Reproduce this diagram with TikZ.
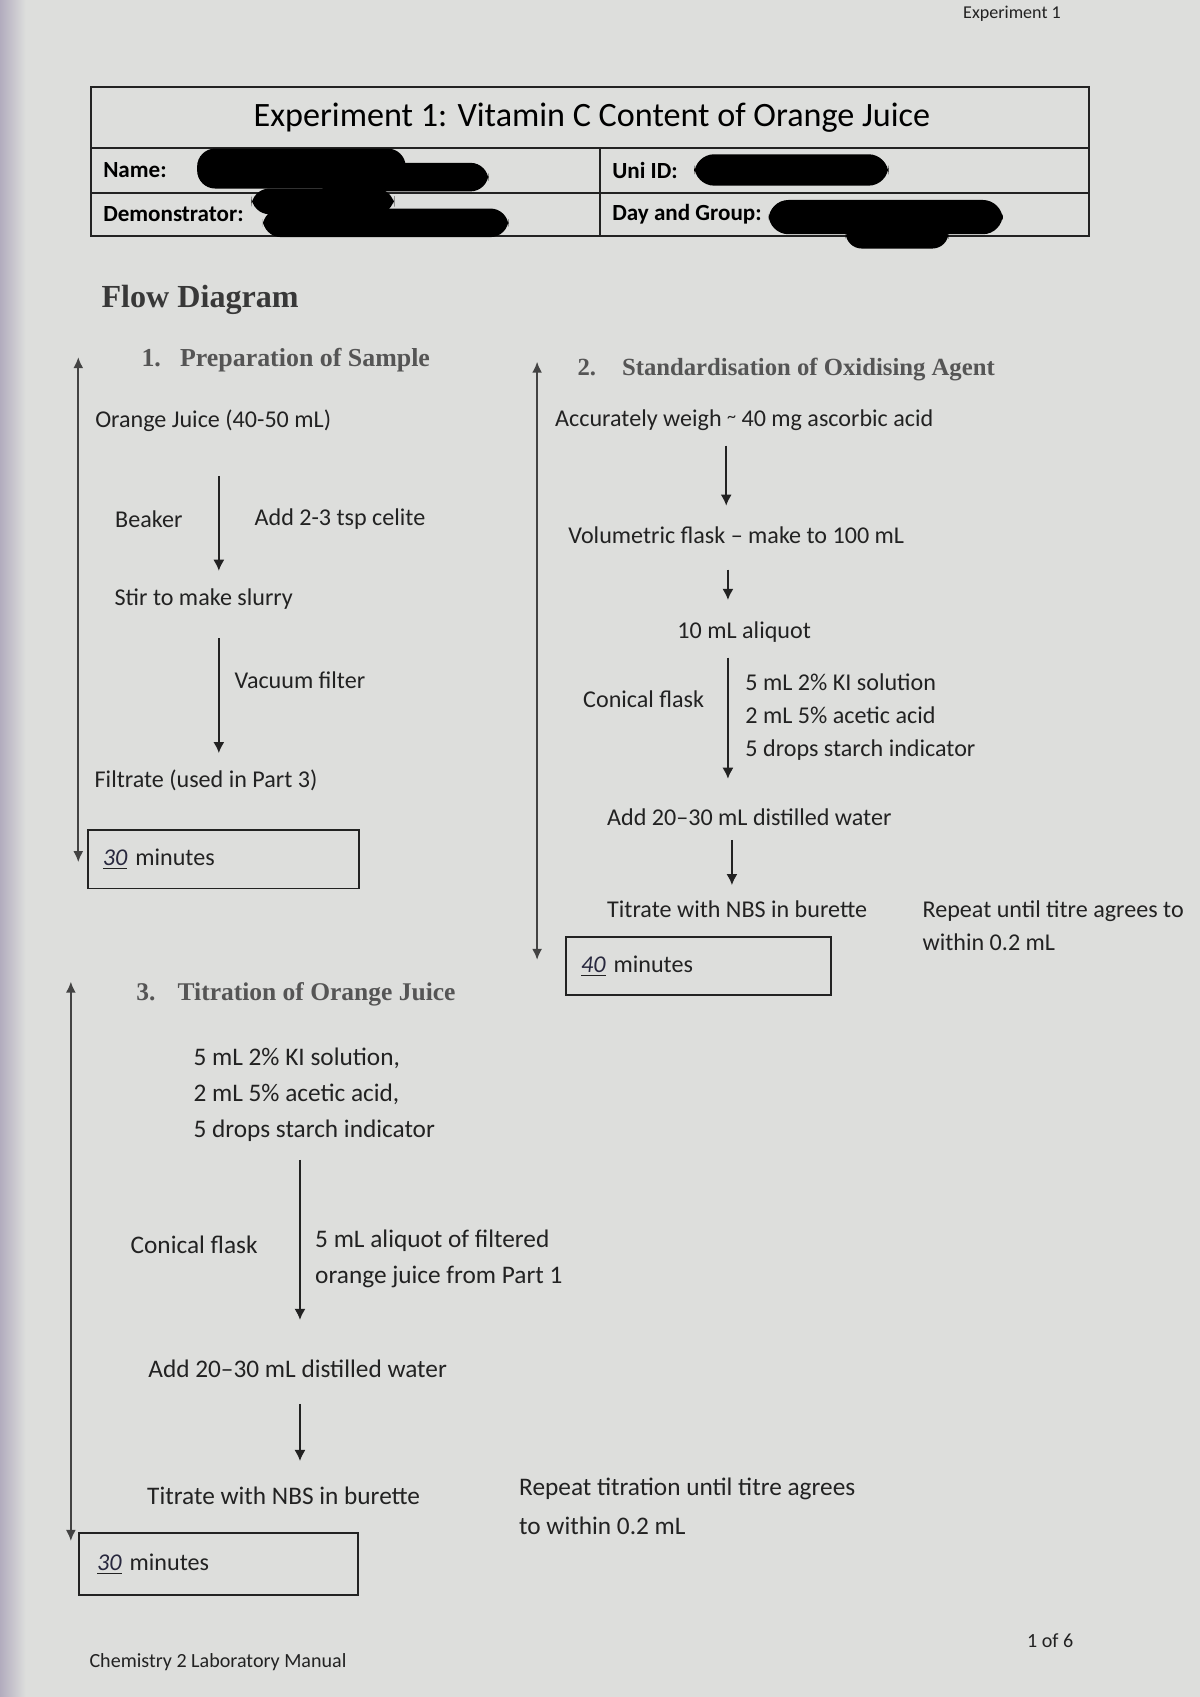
\documentclass[tikz,border=0pt]{standalone}
\usepackage{fontspec}
\setmainfont{Carlito}
\newfontfamily\headserif{Liberation Serif}
\usetikzlibrary{positioning,arrows.meta}

\definecolor{paper}{RGB}{221,222,220}
\definecolor{edge}{RGB}{178,172,190}
\definecolor{ink}{RGB}{34,34,34}
\definecolor{headgray}{RGB}{85,85,85}
\definecolor{pen}{RGB}{40,40,62}

\newcommand{\handnum}[1]{\underline{\textcolor{pen}{\textit{#1}}}}

\tikzset{flow/.style={-{Latex[length=5.5pt,width=5.5pt]},line width=0.8pt,ink}}
\tikzset{span/.style={{Latex[length=5.5pt,width=5pt]}-{Latex[length=5.5pt,width=5pt]},line width=1pt,ink!85}}
\tikzset{rule/.style={line width=0.8pt,ink}}
\tikzset{txt/.style={anchor=west,inner sep=0pt,text=ink,align=left,font=\fontsize{12}{16.5}\selectfont}}
\tikzset{bigtxt/.style={txt,font=\fontsize{12.6}{17.8}\selectfont}}
\tikzset{field/.style={anchor=west,inner sep=0pt,text=black,font=\bfseries\fontsize{11.5}{14}\selectfont}}
\tikzset{sechead/.style={anchor=west,inner sep=0pt,text=headgray,font=\headserif\bfseries\fontsize{12.6}{15}\selectfont}}
\tikzset{timebox/.style={draw=ink,line width=0.8pt,inner ysep=0pt,align=left,minimum height=1.02cm,text=ink,font=\fontsize{12}{14}\selectfont}}

\begin{document}
\begin{tikzpicture}
        \useasboundingbox (0,0) rectangle (21,29.7);
        % the sheet
        \fill[paper] (0,0) rectangle (21,29.7);
        \shade[left color=edge,right color=paper] (0,0) rectangle (0.45,29.7);
        \node[anchor=west,inner sep=0pt,text=ink,font=\fontsize{9}{11}\selectfont] (runhead) at (16.85,29.46) {Experiment 1};

        % header table
        \draw[rule] (1.59,25.57) rectangle (19.06,28.18);
        \draw[rule] (1.59,27.11) -- (19.06,27.11);
        \draw[rule] (1.59,26.32) -- (19.06,26.32);
        \draw[rule] (10.5,25.57) -- (10.5,27.11);
        \node[inner sep=0pt,text=black,font=\fontsize{17}{20}\selectfont] (title) at (10.36,27.64) {Experiment 1: Vitamin C Content of Orange Juice};
        \node[field] (name) at (1.80,26.72) {Name:};
        \node[field] (demo) at (1.80,25.95) {Demonstrator:};
        \node[field] (uniid) at (10.71,26.72) {Uni ID:};
        \node[field] (daygroup) at (10.71,25.95) {Day and Group:};
        % blacked out entries
        \fill[black,rounded corners=9pt] (3.45,26.40) rectangle (7.10,27.10);
        \fill[black,rounded corners=9pt] (5.50,26.35) rectangle (8.55,26.85);
        \fill[black,rounded corners=9pt] (4.40,25.95) rectangle (6.90,26.40);
        \fill[black,rounded corners=9pt] (4.60,25.55) rectangle (8.90,26.05);
        \fill[black,rounded corners=10pt] (12.15,26.45) rectangle (15.55,27.00);
        \fill[black,rounded corners=10pt] (13.45,25.60) rectangle (17.55,26.20);
        \fill[black,rounded corners=8pt] (14.80,25.35) rectangle (16.60,25.80);

        \node[anchor=west,inner sep=0pt,text=ink!90,font=\headserif\bfseries\fontsize{16}{19}\selectfont] (flowhead) at (1.77,24.45) {Flow Diagram};

        % part 1
        \coordinate (s1top) at (1.37,23.45);
        \coordinate (s1bot) at (1.37,14.61);
        \draw[span] (s1top) -- (s1bot);
        \node[sechead,font=\headserif\bfseries\fontsize{12.9}{15}\selectfont] (head1) at (2.47,23.40) {1.\hspace{9.5pt}Preparation of Sample};
        \node[txt] (juice) at (1.66,22.33) {Orange Juice (40-50 mL)};
        \node[txt] (beaker) at (2.01,20.62) {Beaker};
        \node[txt] (celite) at (4.45,20.62) {Add 2-3 tsp celite};
        \node[txt] (slurry) at (2.00,19.22) {Stir to make slurry};
        \node[txt] (vacuum) at (4.10,17.80) {Vacuum filter};
        \node[txt] (filtrate) at (1.65,16.05) {Filtrate (used in Part 3)};
        \coordinate (a1top) at (3.83,21.37);
        \coordinate (a1bot) at (3.83,19.71);
        \coordinate (a2top) at (3.83,18.53);
        \coordinate (a2bot) at (3.83,16.52);
        \draw[flow] (a1top) -- (a1bot);
        \draw[flow] (a2top) -- (a2bot);
        \node[timebox,text width=4.22cm,inner xsep=0.26cm] (time1) at (3.91,14.66) {\handnum{30} minutes};

        % part 2
        \coordinate (s2top) at (9.40,23.37);
        \coordinate (s2bot) at (9.40,12.90);
        \draw[span] (s2top) -- (s2bot);
        \node[sechead,font=\headserif\bfseries\fontsize{12.3}{15}\selectfont] (head2) at (10.10,23.24) {2.\hspace{13pt}Standardisation of Oxidising Agent};
        \node[txt] (weigh) at (9.71,22.35) {Accurately weigh \raisebox{0.3ex}{\small\char`\~} 40 mg ascorbic acid};
        \node[txt] (volflask) at (9.94,20.34) {Volumetric flask -- make to 100 mL};
        \node[txt] (aliquot) at (11.85,18.64) {10 mL aliquot};
        \node[txt] (conical2) at (10.20,17.47) {Conical flask};
        \node[txt] (reagents2) at (13.04,17.15) {5 mL 2\% KI solution\\2 mL 5\% acetic acid\\5 drops starch indicator};
        \node[txt] (water2) at (10.62,15.39) {Add 20--30 mL distilled water};
        \node[txt] (titrate2) at (10.62,13.78) {Titrate with NBS in burette};
        \node[txt] (repeat2) at (16.14,13.50) {Repeat until titre agrees to\\within 0.2 mL};
        \coordinate (b1top) at (12.71,21.90);
        \coordinate (b1bot) at (12.71,20.85);
        \coordinate (b2top) at (12.74,19.73);
        \coordinate (b2bot) at (12.74,19.20);
        \coordinate (b3top) at (12.74,18.19);
        \coordinate (b3bot) at (12.74,16.07);
        \coordinate (b4top) at (12.81,15.00);
        \coordinate (b4bot) at (12.81,14.21);
        \draw[flow] (b1top) -- (b1bot);
        \draw[flow] (b2top) -- (b2bot);
        \draw[flow] (b3top) -- (b3bot);
        \draw[flow] (b4top) -- (b4bot);
        \node[timebox,text width=4.11cm,inner xsep=0.26cm] (time2) at (12.225,12.795) {\handnum{40} minutes};

        % part 3
        \coordinate (s3top) at (1.24,12.52);
        \coordinate (s3bot) at (1.24,2.73);
        \draw[span] (s3top) -- (s3bot);
        \node[sechead,font=\headserif\bfseries\fontsize{12.7}{15}\selectfont] (head3) at (2.38,12.30) {3.\hspace{11pt}Titration of Orange Juice};
        \node[bigtxt] (reagents3) at (3.38,10.54) {5 mL 2\% KI solution,\\2 mL 5\% acetic acid,\\5 drops starch indicator};
        \node[bigtxt] (conical3) at (2.28,7.91) {Conical flask};
        \node[bigtxt,font=\fontsize{12.6}{18}\selectfont] (sample3) at (5.51,7.67) {5 mL aliquot of filtered\\orange juice from Part 1};
        \node[bigtxt] (water3) at (2.59,5.74) {Add 20--30 mL distilled water};
        \node[bigtxt] (titrate3) at (2.57,3.52) {Titrate with NBS in burette};
        \node[bigtxt,font=\fontsize{12.6}{19.4}\selectfont] (repeat3) at (9.08,3.33) {Repeat titration until titre agrees\\to within 0.2 mL};
        \coordinate (c1top) at (5.25,9.40);
        \coordinate (c1bot) at (5.25,6.60);
        \coordinate (c2top) at (5.25,5.13);
        \coordinate (c2bot) at (5.25,4.13);
        \draw[flow] (c1top) -- (c1bot);
        \draw[flow] (c2top) -- (c2bot);
        \node[timebox,text width=4.25cm,inner xsep=0.32cm,minimum height=1.08cm] (time3) at (3.825,2.33) {\handnum{30} minutes};

        % footer
        \node[anchor=west,inner sep=0pt,text=ink,font=\fontsize{10}{12}\selectfont] (manual) at (1.56,0.61) {Chemistry 2 Laboratory Manual};
        \node[anchor=west,inner sep=0pt,text=ink,font=\fontsize{10}{12}\selectfont] (pageno) at (17.97,0.98) {1 of 6};
\end{tikzpicture}
\end{document}
